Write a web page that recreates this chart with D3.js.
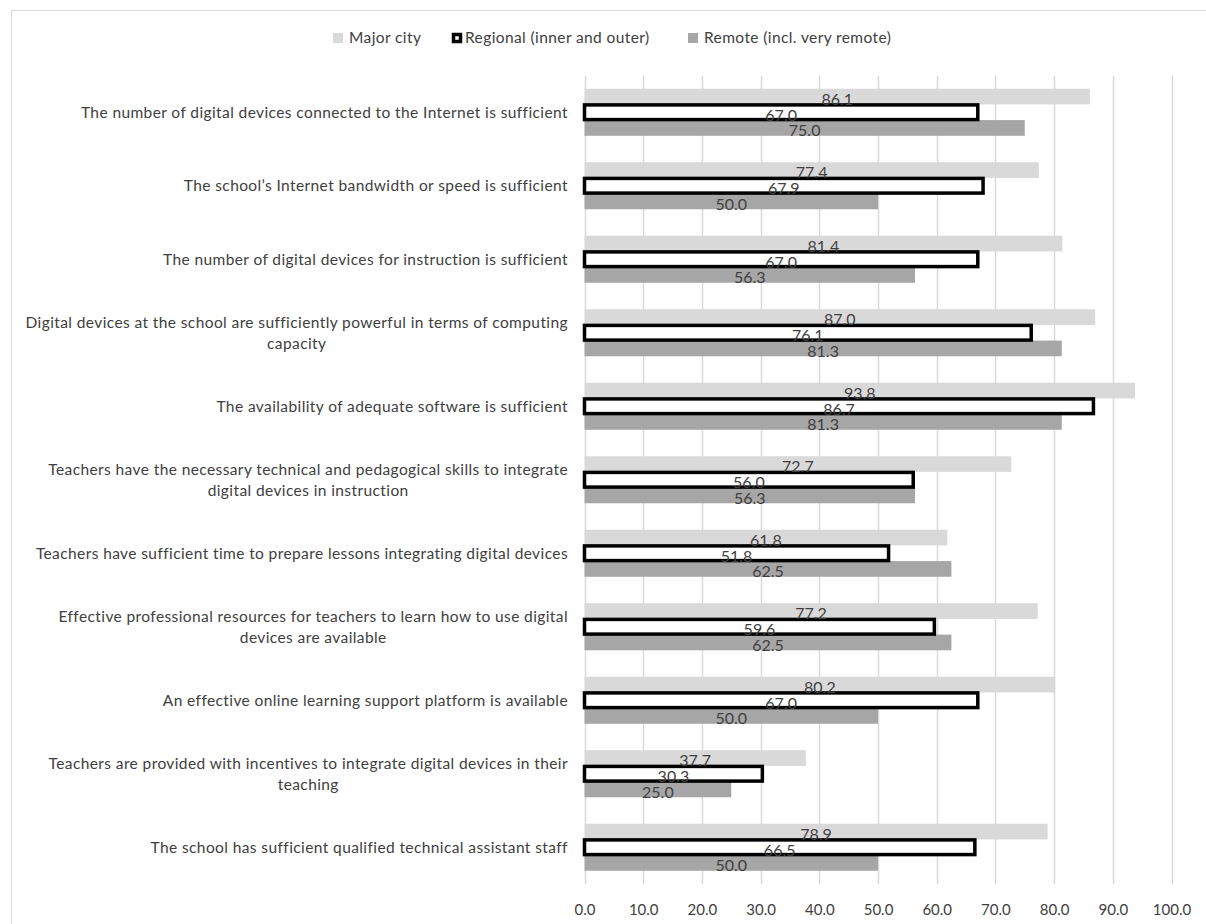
<!DOCTYPE html>
<html>
<head>
<meta charset="utf-8">
<script src="https://cdn.jsdelivr.net/npm/d3@7"></script>
<style>
  html, body { margin: 0; padding: 0; background: #fff; }
  svg { display: block; font-family: Lato, "Open Sans", sans-serif; }
</style>
</head>
<body>
<svg id="chart" width="1206" height="924"></svg>
<script>
// Survey items (each string is one label; "\n" marks a line break)
const categories = [
  "The number of digital devices connected to the Internet is sufficient",
  "The school\u2019s Internet bandwidth or speed is sufficient",
  "The number of digital devices for instruction is sufficient",
  "Digital devices at the school are sufficiently powerful in terms of computing\ncapacity",
  "The availability of adequate software is sufficient",
  "Teachers have the necessary technical and pedagogical skills to integrate\ndigital devices in instruction",
  "Teachers have sufficient time to prepare lessons integrating digital devices",
  "Effective professional resources for teachers to learn how to use digital\ndevices are available",
  "An effective online learning support platform is available",
  "Teachers are provided with incentives to integrate digital devices in their\nteaching",
  "The school has sufficient qualified technical assistant staff"
];

const seriesNames = ["Major city", "Regional (inner and outer)", "Remote (incl. very remote)"];
const majorCity = [86.1, 77.4, 81.4, 87.0, 93.8, 72.7, 61.8, 77.2, 80.2, 37.7, 78.9];
const regional  = [67.0, 67.9, 67.0, 76.1, 86.7, 56.0, 51.8, 59.6, 67.0, 30.3, 66.5];
const remote    = [75.0, 50.0, 56.3, 81.3, 81.3, 56.3, 62.5, 62.5, 50.0, 25.0, 50.0];
const xTicks = [0, 10, 20, 30, 40, 50, 60, 70, 80, 90, 100];

const seriesValues = [majorCity, regional, remote];
const seriesKeys = ["major", "regional", "remote"];
const textColor = "#404040";

const svg = d3.select("#chart");

// outer frame (top and left edges visible)
svg.append("rect")
  .attr("x", 11.5).attr("y", 10.5)
  .attr("width", 1260).attr("height", 960)
  .attr("fill", "none").attr("stroke", "#d9d9d9").attr("stroke-width", 1);

const plot = { left: 584.5, right: 1171.5, top: 75.5, bottom: 884 };

const x = d3.scaleLinear().domain([0, 100]).range([plot.left, plot.right]);
const y = d3.scaleBand().domain(d3.range(categories.length))
  .range([plot.top, plot.bottom]).paddingInner(0.36).paddingOuter(0.18);
const ySub = d3.scaleBand().domain(seriesKeys).range([0, y.bandwidth()]);

// vertical gridlines
svg.append("g").selectAll("line").data(xTicks).join("line")
  .attr("x1", d => Math.round(x(d)) + 0.5).attr("x2", d => Math.round(x(d)) + 0.5)
  .attr("y1", plot.top).attr("y2", plot.bottom)
  .attr("stroke", "#d9d9d9").attr("stroke-width", 1.5);

// x axis labels
const xAxis = d3.axisBottom(x).tickValues(xTicks).tickFormat(d3.format(".1f")).tickSize(0).tickPadding(0);
const gx = svg.append("g").attr("transform", `translate(0,${plot.bottom + 20})`).call(xAxis);
gx.select(".domain").remove();
gx.selectAll("text").attr("fill", textColor).attr("font-size", 15)
  .attr("font-family", "Lato, sans-serif");

const rows = categories.map((c, i) => ({ i, label: c }));

// Major city and Remote bars
const barGroups = svg.append("g");
[0, 2].forEach(s => {
  barGroups.selectAll(null).data(rows).join("rect")
    .attr("x", x(0))
    .attr("y", d => y(d.i) + ySub(seriesKeys[s]))
    .attr("width", d => x(seriesValues[s][d.i]) - x(0))
    .attr("height", ySub.bandwidth())
    .attr("fill", s === 0 ? "#d9d9d9" : "#a6a6a6");
});

// Regional bars: white with a heavy black outline
barGroups.selectAll(null).data(rows).join("rect")
  .attr("x", x(0))
  .attr("y", d => y(d.i) + ySub("regional") + 0.5)
  .attr("width", d => x(regional[d.i]) - x(0))
  .attr("height", ySub.bandwidth() - 1)
  .attr("fill", "#fff").attr("stroke", "#000").attr("stroke-width", 3.5);

// value labels centred in each bar
const labels = svg.append("g").attr("font-size", 16).attr("fill", textColor)
  .attr("text-anchor", "middle");
seriesKeys.forEach((k, s) => {
  labels.selectAll(null).data(rows).join("text")
    .attr("x", d => (x(0) + x(seriesValues[s][d.i])) / 2)
    .attr("y", d => y(d.i) + ySub(k) + ySub.bandwidth() + 0.5)
    .text(d => seriesValues[s][d.i].toFixed(1));
});

// category labels: block right-aligned, lines centred within the block
const catG = svg.append("g").attr("font-size", 15.5).attr("letter-spacing", 0.4)
  .attr("fill", textColor);
rows.forEach(d => {
  const lines = d.label.split("\n");
  const cy = y(d.i) + y.bandwidth() / 2;
  const lh = 21;
  const t = catG.append("text").attr("text-anchor", "middle");
  lines.forEach((ln, j) => {
    t.append("tspan").attr("x", 0)
      .attr("y", cy + (j - (lines.length - 1) / 2) * lh)
      .attr("dy", "0.35em").text(ln);
  });
  const w = t.node().getBBox().width;
  t.selectAll("tspan").attr("x", 568 - w / 2);
});

// legend
const legendItems = [
  { name: seriesNames[0], x: 333, fill: "#d9d9d9", stroke: "none" },
  { name: seriesNames[1], x: 452, fill: "#fff", stroke: "#000" },
  { name: seriesNames[2], x: 688, fill: "#a6a6a6", stroke: "none" }
];
const lg = svg.append("g");
legendItems.forEach(it => {
  const g = lg.append("g").attr("transform", `translate(${it.x},38)`);
  if (it.stroke === "none") {
    g.append("rect").attr("x", 0).attr("y", -5).attr("width", 10).attr("height", 10).attr("fill", it.fill);
  } else {
    g.append("rect").attr("x", 1.5).attr("y", -3.5).attr("width", 7).attr("height", 7)
      .attr("fill", it.fill).attr("stroke", it.stroke).attr("stroke-width", 3.5);
  }
  g.append("text").attr("x", it.stroke === "none" ? 16 : 13).attr("dy", "0.35em")
    .attr("font-size", 15.5).attr("letter-spacing", 0.4)
    .attr("fill", textColor).text(it.name);
});
</script>
</body>
</html>
